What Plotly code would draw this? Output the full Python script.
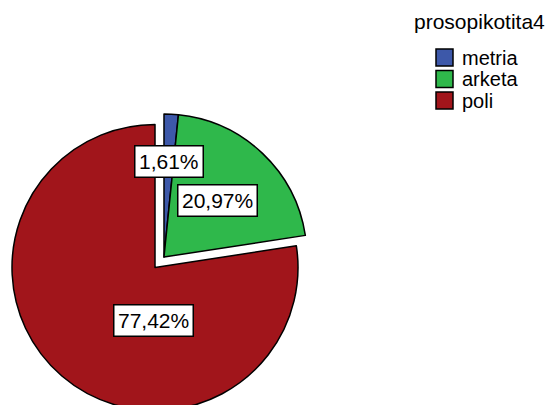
import math
import plotly.graph_objects as go

# Data
categories = ["metria", "arketa", "poli"]
percentages = [1.61, 20.97, 77.42]
legend_title = "prosopikotita4"

# Styling
slice_colors = ["#3d58a9", "#2fb84b", "#a1151b"]
exploded = ["metria", "arketa"]
FONT = "Liberation Sans, Arial, sans-serif"
W, H = 548, 412            # page is clipped to the 405px window height
CX, CY, R = 155, 267.5, 143  # pie centre / radius in pixels
EXPLODE_PX = 13.8
TRANSPARENT = "rgba(0,0,0,0)"
LINE_W = 1.5

total = sum(percentages)


def angle_of(frac):
    # clockwise from 12 o'clock, in radians
    return 2 * math.pi * frac


def paper(x, y):
    return x / W, 1 - y / H


def domain(cx, cy, r):
    return dict(x=[(cx - r) / W, (cx + r) / W], y=[1 - (cy + r) / H, 1 - (cy - r) / H])


# explode direction: bisector of the pulled-out group
grp_idx = [categories.index(c) for c in exploded]
grp_start = sum(percentages[: min(grp_idx)])
grp_span = sum(percentages[i] for i in grp_idx)
grp_ang = angle_of((grp_start + grp_span / 2) / total)
ex_cx = CX + EXPLODE_PX * math.sin(grp_ang)
ex_cy = CY - EXPLODE_PX * math.cos(grp_ang)


def pie_layer(members, cx, cy):
    cols = [slice_colors[i] if categories[i] in members else TRANSPARENT for i in range(len(categories))]
    widths = [LINE_W if categories[i] in members else 0 for i in range(len(categories))]
    return go.Pie(
        labels=categories,
        values=percentages,
        sort=False,
        direction="clockwise",
        rotation=0,
        textinfo="none",
        hoverinfo="skip",
        showlegend=False,
        domain=domain(cx, cy, R),
        marker=dict(colors=cols, line=dict(color="black", width=widths)),
    )


rest = [c for c in categories if c not in exploded]
fig = go.Figure([pie_layer(rest, CX, CY), pie_layer(exploded, ex_cx, ex_cy)])

# value labels in boxes
label_radius = {"metria": 0.67, "arketa": 0.545, "poli": 0.37}
label_angle_deg = {"poli": 182}
annotations = []
cum = 0
for i, (cat, val) in enumerate(zip(categories, percentages)):
    mid = angle_of((cum + val / 2) / total)
    cum += val
    if cat in label_angle_deg:
        mid = math.radians(label_angle_deg[cat])
    cx, cy = (ex_cx, ex_cy) if cat in exploded else (CX, CY)
    rr = label_radius[cat] * R
    x, y = paper(cx + rr * math.sin(mid), cy - rr * math.cos(mid))
    annotations.append(dict(
        x=x, y=y, xref="paper", yref="paper", xanchor="center", yanchor="middle",
        text=f"{val:.2f}".replace(".", ",") + "%", showarrow=False,
        font=dict(family=FONT, size=21, color="black"),
        bgcolor="white", bordercolor="black", borderwidth=1.5, borderpad=3.5,
    ))

# legend
tx, ty = paper(412, 22)
annotations.append(dict(
    x=tx, y=ty, xref="paper", yref="paper", xanchor="left", yanchor="middle",
    text=legend_title, showarrow=False, font=dict(family=FONT, size=21, color="black"),
))
shapes = []
LEG_Y0, LEG_STEP, SW = 57.5, 21.5, 17
for i, cat in enumerate(categories):
    yc = LEG_Y0 + i * LEG_STEP
    x0, y0 = paper(436, yc + SW / 2)
    x1, y1 = paper(436 + SW, yc - SW / 2)
    shapes.append(dict(type="rect", xref="paper", yref="paper", x0=x0, x1=x1, y0=y0, y1=y1,
                       fillcolor=slice_colors[i], line=dict(color="black", width=LINE_W)))
    lx, ly = paper(460, yc)
    annotations.append(dict(
        x=lx, y=ly, xref="paper", yref="paper", xanchor="left", yanchor="middle",
        text=cat, showarrow=False, font=dict(family=FONT, size=20, color="black"),
    ))

fig.update_layout(
    width=W, height=H,
    margin=dict(l=0, r=0, t=0, b=0),
    paper_bgcolor="white", plot_bgcolor="white",
    annotations=annotations, shapes=shapes,
)

fig.write_html(
    "out.html",
    post_script="document.documentElement.style.overflow='hidden';"
                "document.body.style.overflow='hidden';document.body.style.margin='0';",
)
